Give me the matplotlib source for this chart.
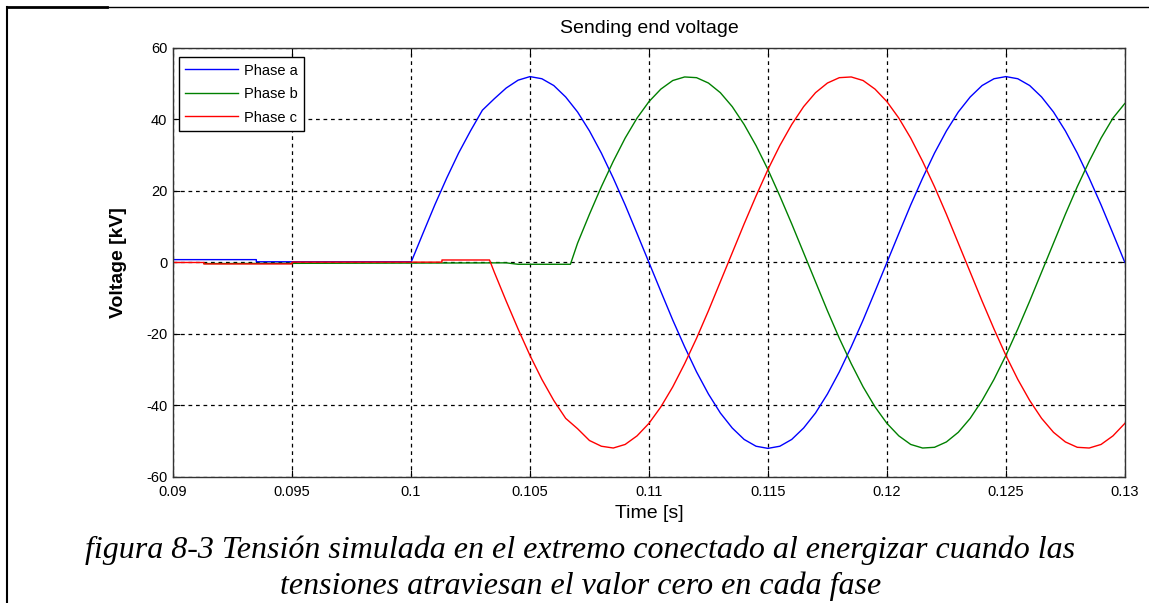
import matplotlib
matplotlib.use("Agg")
import matplotlib.pyplot as plt
from matplotlib.lines import Line2D

plt.rcParams['font.family'] = ['Liberation Sans', 'DejaVu Sans']
plt.rcParams['axes.unicode_minus'] = False

# common sample times after the breaker closes (s)
t_grid = [0.1, 0.1005, 0.101, 0.1015, 0.102, 0.1025, 0.103, 0.1035, 0.104, 0.1045,
          0.105, 0.1055, 0.106, 0.1065, 0.107, 0.1075, 0.108, 0.1085, 0.109, 0.1095,
          0.11, 0.1105, 0.111, 0.1115, 0.112, 0.1125, 0.113, 0.1135, 0.114, 0.1145,
          0.115, 0.1155, 0.116, 0.1165, 0.117, 0.1175, 0.118, 0.1185, 0.119, 0.1195,
          0.12, 0.1205, 0.121, 0.1215, 0.122, 0.1225, 0.123, 0.1235, 0.124, 0.1245,
          0.125, 0.1255, 0.126, 0.1265, 0.127, 0.1275, 0.128, 0.1285, 0.129, 0.1295,
          0.13]

# phase a (kV)
a_pre_t = [0.09, 0.0935, 0.0935, 0.1]
a_pre_v = [0.8, 0.8, 0.2, 0.2]
a_vals = [0, 8.1, 16.1, 23.6, 30.6, 36.8, 42.6, 45.8, 48.8, 51.0,
          52.0, 51.4, 49.5, 46.3, 42.1, 36.8, 30.6, 23.6, 16.1, 8.1,
          0, -8.1, -16.1, -23.6, -30.6, -36.8, -42.1, -46.3, -49.5, -51.4,
          -52.0, -51.4, -49.5, -46.3, -42.1, -36.8, -30.6, -23.6, -16.1, -8.1,
          0, 8.1, 16.1, 23.6, 30.6, 36.8, 42.1, 46.3, 49.5, 51.4,
          52.0, 51.4, 49.5, 46.3, 42.1, 36.8, 30.6, 23.6, 16.1, 8.1,
          0]

# phase b (kV), closes at about 0.1067 s
b_pre_t = [0.0913, 0.104, 0.1045, 0.1067]
b_pre_v = [-0.3, -0.1, -0.5, -0.5]
b_vals = [5.4, 13.5, 21.2, 28.3, 34.8, 40.4, 45.0, 48.5, 50.9, 51.9,
          51.7, 50.2, 47.5, 43.6, 38.6, 32.7, 26.0, 18.6, 10.8, 2.7,
          -5.4, -13.5, -21.2, -28.3, -34.8, -40.4, -45.0, -48.5, -50.9, -51.9,
          -51.7, -50.2, -47.5, -43.6, -38.6, -32.7, -26.0, -18.6, -10.8, -2.7,
          5.4, 13.5, 21.2, 28.3, 34.8, 40.4, 44.5]

# phase c (kV), closes at about 0.1033 s
c_pre_t = [0.09, 0.0913, 0.0913, 0.095, 0.095, 0.1013, 0.1013, 0.1033]
c_pre_v = [0.0, 0.0, -0.4, -0.4, 0.1, 0.1, 0.7, 0.7]
c_vals = [-2.7, -10.8, -18.6, -26.0, -32.7, -38.6, -43.6, -46.5, -49.8, -51.4,
          -51.9, -50.9, -48.5, -45.0, -40.4, -34.8, -28.3, -21.2, -13.5, -5.4,
          2.7, 10.8, 18.6, 26.0, 32.7, 38.6, 43.6, 47.5, 50.2, 51.7,
          51.9, 50.9, 48.5, 45.0, 40.4, 34.8, 28.3, 21.2, 13.5, 5.4,
          -2.7, -10.8, -18.6, -26.0, -32.7, -38.6, -43.6, -47.5, -50.2, -51.7,
          -51.9, -50.9, -48.5, -45.0]

x_ticks = [0.09, 0.095, 0.1, 0.105, 0.11, 0.115, 0.12, 0.125, 0.13]
x_labels = ['0.09', '0.095', '0.1', '0.105', '0.11', '0.115', '0.12', '0.125', '0.13']
y_ticks = [-60, -40, -20, 0, 20, 40, 60]

fig = plt.figure(figsize=(11.49, 6.03), dpi=100)
ax = fig.add_axes([0.1506, 0.209, 0.8284, 0.7114])

ta = a_pre_t + t_grid
tb = b_pre_t + t_grid[14:]
tc = c_pre_t + t_grid[7:]
ax.plot(ta, a_pre_v + a_vals, color='#0000ff', lw=1, label='Phase a')
ax.plot(tb, b_pre_v + b_vals, color='#008000', lw=1, label='Phase b')
ax.plot(tc, c_pre_v + c_vals, color='#ff0000', lw=1, label='Phase c')

ax.set_xlim(0.09, 0.13)
ax.set_ylim(-60, 60)
ax.set_xticks(x_ticks)
ax.set_xticklabels(x_labels)
ax.set_yticks(y_ticks)
ax.grid(True, color='black', linestyle=(0, (3, 3)), lw=0.9)
ax.tick_params(direction='in', top=True, right=True, length=5, labelsize=10.5)
ax.tick_params(axis='x', pad=6)
ax.tick_params(axis='y', pad=4)
for s in ax.spines.values():
    s.set_color('#333333')
    s.set_linewidth(1)

ax.set_title('Sending end voltage', fontsize=14, pad=11)
ax.set_xlabel('Time [s]', fontsize=14, labelpad=4)
ax.set_ylabel('Voltage [kV]', fontsize=14, fontweight='bold', labelpad=14)

leg = ax.legend(loc='upper left', bbox_to_anchor=(0.006, 0.979), fontsize=10.5,
                handlelength=3.6, fancybox=False, framealpha=1, borderaxespad=0,
                borderpad=0.45, labelspacing=0.65, handletextpad=0.4)
leg.get_frame().set_edgecolor('black')
leg.get_frame().set_linewidth(1)

# page frame lines
fig.add_artist(Line2D([7 / 1149, 7 / 1149], [0, 1 - 7 / 603], color='black', lw=1.5))
fig.add_artist(Line2D([7 / 1149, 107 / 1149], [1 - 7 / 603, 1 - 7 / 603], color='black', lw=2))
fig.add_artist(Line2D([107 / 1149, 1], [1 - 7 / 603, 1 - 7 / 603], color='black', lw=1))

caption_font = ['Liberation Serif', 'DejaVu Serif']
fig.text(0.505, 1 - 550 / 603, 'figura 8-3 Tensión simulada en el extremo conectado al energizar cuando las',
         ha='center', va='center', fontsize=23, style='italic', family=caption_font)
fig.text(0.505, 1 - 586 / 603, 'tensiones atraviesan el valor cero en cada fase',
         ha='center', va='center', fontsize=23, style='italic', family=caption_font)

fig.savefig('out.png', dpi=100)
